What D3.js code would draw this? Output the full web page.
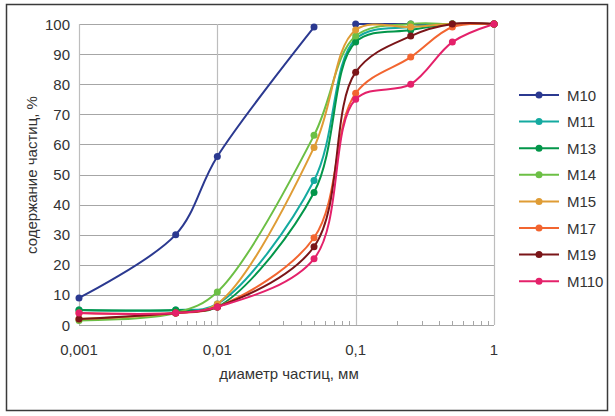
<!DOCTYPE html>
<html>
<head>
<meta charset="utf-8">
<script src="https://cdn.jsdelivr.net/npm/d3@7"></script>
<style>
  body { margin: 0; background: #fff; }
  text { font-family: "Liberation Sans", Arial, sans-serif; fill: #333; }
</style>
</head>
<body>
<svg width="615" height="416"></svg>
<script>
// particle diameter, mm
var sizes = [0.001, 0.005, 0.01, 0.05, 0.1, 0.25, 0.5, 1];
var seriesNames = ["M10", "M11", "M13", "M14", "M15", "M17", "M19", "M110"];
var seriesColors = ["#2b3990", "#14aaa0", "#03964a", "#6cbf45", "#df9c35", "#f26530", "#7a1518", "#e4216a"];
var M10  = [9, 30, 56, 99, 100, 100, 100, 100];
var M11  = [5, 5, 7, 48, 95, 99, 100, 100];
var M13  = [5, 5, 6, 44, 94, 98, 100, 100];
var M14  = [1.5, 4, 11, 63, 96, 100, 100, 100];
var M15  = [2, 4, 7, 59, 98, 99, 100, 100];
var M17  = [4, 4, 6, 29, 77, 89, 99, 100];
var M19  = [2, 4, 6, 26, 84, 96, 100, 100];
var M110 = [4, 4, 6, 22, 75, 80, 94, 100];
var seriesValues = [M10, M11, M13, M14, M15, M17, M19, M110];
// the M10 curve is not joined between these two sizes in the original
var seriesBreaks = [[0.05], [], [], [], [], [], [], []];
var xTicks = [0.001, 0.01, 0.1, 1];
var xTickLabels = ["0,001", "0,01", "0,1", "1"];
var yTicks = [0, 10, 20, 30, 40, 50, 60, 70, 80, 90, 100];

var svg = d3.select("svg");
var fs = 15;

// outer frame
svg.append("rect")
  .attr("x", 6.5).attr("y", 4.5)
  .attr("width", 601).attr("height", 406)
  .attr("fill", "none").attr("stroke", "#3a3a3a").attr("stroke-width", 1.5);

var x = d3.scaleLog().domain([0.001, 1]).range([79, 494]);
var y = d3.scaleLinear().domain([0, 100]).range([325, 24]);

// horizontal grid
svg.append("g").selectAll("line")
  .data(yTicks)
  .enter().append("line")
  .attr("x1", 79).attr("x2", 494)
  .attr("y1", function(d){ return Math.round(y(d)) + 0.5 })
  .attr("y2", function(d){ return Math.round(y(d)) + 0.5 })
  .attr("stroke", "#a6a6a6").attr("stroke-width", 1);

// vertical grid at decades
svg.append("g").selectAll("line")
  .data(xTicks)
  .enter().append("line")
  .attr("x1", function(d){ return Math.round(x(d)) + 0.5 })
  .attr("x2", function(d){ return Math.round(x(d)) + 0.5 })
  .attr("y1", 24).attr("y2", 325)
  .attr("stroke", "#bdbdbd").attr("stroke-width", 1.2);

// minor log ticks
var minor = [];
[0.001, 0.01, 0.1].forEach(function(dec){
  for (var k = 2; k <= 9; k++) minor.push(dec * k);
});
svg.append("g").selectAll("line")
  .data(minor)
  .enter().append("line")
  .attr("x1", function(d){ return Math.round(x(d)) + 0.5 })
  .attr("x2", function(d){ return Math.round(x(d)) + 0.5 })
  .attr("y1", 321).attr("y2", 325.5)
  .attr("stroke", "#a6a6a6").attr("stroke-width", 1);

// y tick labels
svg.append("g").selectAll("text")
  .data(yTicks)
  .enter().append("text")
  .text(function(d){ return d })
  .attr("x", 70)
  .attr("y", function(d){ return y(d) })
  .attr("dy", 5.5)
  .attr("text-anchor", "end")
  .attr("font-size", fs);

// x tick labels
svg.append("g").selectAll("text")
  .data(xTicks)
  .enter().append("text")
  .text(function(d, i){ return xTickLabels[i] })
  .attr("x", function(d){ return x(d) })
  .attr("y", 355)
  .attr("text-anchor", "middle")
  .attr("font-size", fs);

// axis titles
svg.append("text")
  .text("диаметр частиц, мм")
  .attr("x", 289).attr("y", 379)
  .attr("text-anchor", "middle")
  .attr("font-size", fs);

svg.append("text")
  .text("содержание частиц, %")
  .attr("transform", "translate(37,175) rotate(-90)")
  .attr("text-anchor", "middle")
  .attr("font-size", fs);

// series
var line = d3.line()
  .x(function(d){ return x(d[0]) })
  .y(function(d){ return y(d[1]) })
  .curve(d3.curveCatmullRom.alpha(0.5));

seriesNames.forEach(function(name, i){
  var pts = sizes.map(function(s, j){ return [s, seriesValues[i][j]] });
  // split into pieces at the breaks
  var pieces = [[]];
  pts.forEach(function(p){
    pieces[pieces.length - 1].push(p);
    if (seriesBreaks[i].indexOf(p[0]) >= 0) pieces.push([]);
  });
  var g = svg.append("g");
  pieces.forEach(function(piece){
    g.append("path")
      .attr("d", line(piece))
      .attr("fill", "none")
      .attr("stroke", seriesColors[i])
      .attr("stroke-width", 2);
  });
  g.selectAll("circle")
    .data(pts)
    .enter().append("circle")
    .attr("cx", function(d){ return x(d[0]) })
    .attr("cy", function(d){ return y(d[1]) })
    .attr("r", 3.5)
    .attr("fill", seriesColors[i]);
});

// legend
var legend = svg.append("g");
seriesNames.forEach(function(name, i){
  var ly = 95 + i * 26.6;
  legend.append("line")
    .attr("x1", 519).attr("x2", 559)
    .attr("y1", ly).attr("y2", ly)
    .attr("stroke", seriesColors[i]).attr("stroke-width", 2);
  legend.append("circle")
    .attr("cx", 539).attr("cy", ly).attr("r", 3.5)
    .attr("fill", seriesColors[i]);
  legend.append("text")
    .text(name)
    .attr("x", 567).attr("y", ly)
    .attr("dy", 5.5)
    .attr("font-size", fs);
});
</script>
</body>
</html>
